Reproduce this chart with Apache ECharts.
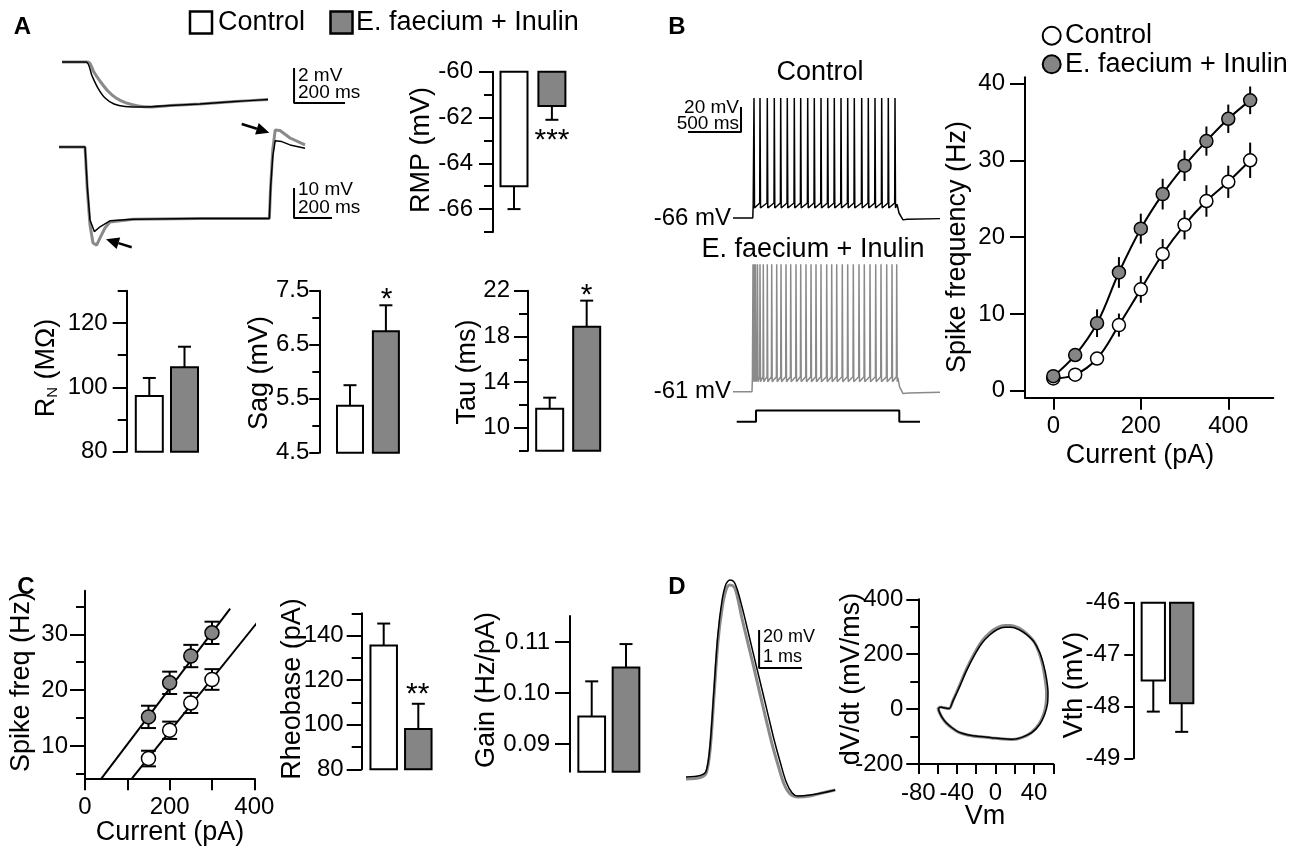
<!DOCTYPE html>
<html><head><meta charset="utf-8">
<script src="https://cdn.jsdelivr.net/npm/echarts/dist/echarts.min.js"></script>
<style>html,body{margin:0;padding:0;background:#fff}#c{width:1300px;height:858px}</style>
</head><body><div id="c"></div>
<script>
// ---------------- DATA ----------------
const groups = ['Control', 'E. faecium + Inulin'];
// Panel A traces (time ms, voltage mV relative to baseline)
const aTopCtrl = [[0,0],[94,0],[118,-0.80],[141,-1.49],[169,-2.06],[204,-2.40],[247,-2.54],[325,-2.57],[424,-2.49],[541,-2.40],[678,-2.26],[808,-2.14]];
const aTopEF = [[0,0],[102,0],[125,-0.57],[149,-1.09],[180,-1.66],[212,-2.06],[251,-2.34],[298,-2.51],[345,-2.57],[424,-2.49],[541,-2.40],[678,-2.26],[808,-2.14]];
const aTopScale = [[910,-0.34],[910,-2.34],[1110,-2.34]];
const aBotCtrl = [[0,0],[137,0],[149,-13.2],[163,-24.3],[186,-28.2],[216,-26.6],[268,-24.6],[391,-24.1],[742,-23.8],[1107,-23.8],[1114,-13.2],[1125,-3.2],[1138,2.1],[1172,1.8],[1216,0.7],[1295,-0.4]];
const aBotEF = [[0,0],[137,0],[149,-14.3],[163,-26],[179,-32],[198,-32.7],[216,-30.3],[242,-27],[268,-25],[391,-24.1],[742,-23.8],[1107,-23.8],[1114,-13.2],[1125,-1],[1138,5.7],[1163,5.5],[1216,3],[1295,0.7]];
const aBotScale = [[1237,-13.7],[1237,-23.7],[1437,-23.7]];
// Bar panels (mean, SEM)
const rmpMean = [-65.0, -61.5], rmpErr = [1.0, 0.6];
const rnMean = [97.3, 106.2], rnErr = [5.6, 6.4];
const sagMean = [5.37, 6.75], sagErr = [0.38, 0.48];
const tauMean = [11.67, 18.84], tauErr = [0.97, 2.29];
const rheoMean = [135.6, 98.1], rheoErr = [9.8, 11.3];
const gainMean = [0.0954, 0.1050], gainErr = [0.0069, 0.0046];
const vthMean = [-47.50, -47.94], vthErr = [0.60, 0.55];
// Tick values
const rmpMajor = [-66,-64,-62,-60], rmpMinor = [-67,-65,-63,-61];
const rnMajor = [80,100,120], rnMinor = [90,110,130];
const sagMajor = [4.5,5.5,6.5,7.5], sagMinor = [5,6,7];
const tauMajor = [10,14,18,22], tauMinor = [8,12,16,20];
const rheoMajor = [80,100,120,140], rheoMinor = [90,110,130,150];
const gainMajor = [0.09,0.10,0.11];
const vthMajor = [-49,-48,-47,-46];
const bYMajor = [0,10,20,30,40], bXMajor = [0,200,400];
const cYMajor = [10,20,30], cYMinor = [5,15,25,35], cXTicks = [0,100,200,300,400], cXLabels = [0,200,400];
const dYMajor = [-200,0,200,400], dYMinor = [-100,100,300], dXTicks = [-80,-60,-40,-20,0,20,40,60], dXLabels = [-80,-40,0,40];
// Panel B spike trains (spike times ms)
const bCtrlSpikes = [210,270,343,413,477,543,613,677,747,813,880,947,1013,1080,1147,1213,1287,1353,1420,1487,1553,1620];
const bEFSpikes = [200,212,225,245,270,303,343,387,437,480,530,577,630,677,730,780,830,880,937,987,1037,1093,1147,1203,1260,1313,1370,1427,1480,1537,1590,1637];
const bCtrlTail = [[1660,-62],[1700,-67.5],[1740,-67],[2070,-66.5]];
const bEFTail = [[1665,-57],[1700,-62.5],[1760,-62],[2070,-61.5]];
const bStep = [[37,-85],[230,-85],[230,-76],[1663,-76],[1663,-85],[1870,-85]];
const bScale = [[-450,2.8],[80,2.8],[80,22.8]];
// Panel B F-I curve
const currentB = [0,50,100,150,200,250,300,350,400,450];
const ctrlFreq = [1.6,2.1,4.2,8.55,13.2,17.8,21.6,24.7,27.2,30.0];
const ctrlFreqErr = [0.3,0.5,0.8,1.5,1.75,1.95,1.9,2.05,2.1,2.3];
const efFreq = [1.9,4.65,8.8,15.4,21.1,25.6,29.3,32.5,35.4,37.8];
const efFreqErr = [0.3,0.8,1.8,2.0,1.95,2.0,2.0,1.9,1.85,1.8];
// Panel C linear range
const currentC = [150,200,250,300];
const ctrlC = [7.74,12.8,17.7,21.9], ctrlCErr = [1.4,1.55,1.8,1.85];
const efC = [15.2,21.3,26.1,30.25], efCErr = [2.0,2.0,2.0,2.0];
const fitCtrlC = [[111,4.2],[410,32.4]], fitEfC = [[39,4.2],[343,34.6]];
// Panel D action potential (ms, mV rel.) and phase plot (mV, mV/ms)
const apCtrl = [[0,0],[0.33,0.8],[0.47,3.2],[0.56,16.8],[0.65,45.8],[0.74,74.7],[0.84,93.2],[0.93,101.6],[1.02,103.7],[1.12,102.6],[1.21,97.4],[1.35,85.3],[1.49,72.1],[1.63,58.9],[1.77,45.8],[1.91,32.6],[2.05,19.5],[2.19,7.9],[2.33,-2.6],[2.47,-8.4],[2.60,-10.0],[2.88,-9.5],[3.16,-8.4],[3.47,-6.8]];
const apEF = [[0,-1.1],[0.33,-0.3],[0.47,2.1],[0.56,14.2],[0.65,42.1],[0.74,70.5],[0.84,88.9],[0.93,98.4],[1.02,101.1],[1.12,100.0],[1.19,95.3],[1.30,83.7],[1.44,70.5],[1.58,57.4],[1.72,43.7],[1.86,30.5],[2.00,17.4],[2.14,6.3],[2.28,-3.7],[2.42,-8.9],[2.60,-10.5],[2.88,-10.0],[3.16,-8.4],[3.47,-6.8]];
const apScale = [[1.70,77.4],[1.70,57.4],[2.70,57.4]];
const phaseCtrl = [[-57,8],[-52,4],[-48,2],[-44,30],[-38,75],[-30,140],[-22,195],[-14,240],[-6,270],[2,290],[10,298],[16,298],[24,290],[32,272],[40,245],[46,205],[50,160],[53,110],[54.5,60],[54,20],[51,-20],[46,-55],[38,-85],[28,-102],[18,-110],[8,-108],[-4,-104],[-16,-100],[-28,-94],[-38,-84],[-45,-68],[-51,-50],[-55,-32],[-58,-12],[-59,2],[-57,8]];
const phaseEF = [[-57,8],[-52,4],[-48,2],[-44,32],[-38,80],[-30,146],[-22,202],[-14,248],[-6,278],[2,297],[10,305],[16,305],[24,296],[32,276],[40,246],[45,208],[49,160],[51.5,110],[53,60],[52.5,20],[50,-20],[45,-56],[37,-86],[28,-103],[18,-111],[8,-109],[-4,-105],[-16,-101],[-28,-95],[-38,-85],[-45,-69],[-51,-51],[-55,-33],[-58,-13],[-59.5,2],[-57,8]];

// ---------------- BUILD ----------------
const FF = '"Liberation Sans", Arial, Helvetica, sans-serif';
const BLACK = '#000', GREY = '#858585', TGREY = '#8a8a8a';
const NAME = 27;
const grid = [], xAxis = [], yAxis = [], series = [], graphic = [];

function addGrid(r){ grid.push({left:r[0], top:r[1], width:r[2], height:r[3]}); return grid.length-1; }
function traceGrid(r, xv0, xp0, xk, yv0, yp0, yk){
  const g = addGrid(r);
  xAxis.push({gridIndex:g, type:'value', show:false, min: xv0 + (r[0]-xp0)/xk, max: xv0 + (r[0]+r[2]-xp0)/xk});
  yAxis.push({gridIndex:g, type:'value', show:false, min: yv0 - (r[1]+r[3]-yp0)/yk, max: yv0 + (yp0-r[1])/yk});
  return [xAxis.length-1, yAxis.length-1];
}
function line(ax, data, color, width, z, smooth){
  series.push({type:'line', xAxisIndex:ax[0], yAxisIndex:ax[1], data:data, showSymbol:false, symbol:'none',
    smooth: smooth||false, clip:false, silent:true, z: z||2, lineStyle:{color:color, width:width}});
}
function yAx(g, o){
  const lab = {show:true, customValues:o.majors, margin:o.margin, fontSize:24, color:BLACK, fontFamily:FF};
  if (o.fmt) lab.formatter = o.fmt;
  yAxis.push({gridIndex:g, type:'value', position:'left', min:o.min, max:o.max,
    axisLine:{show:true, onZero:false, lineStyle:{color:BLACK, width:2}},
    axisTick:{show:true, inside:false, length:o.majLen, customValues:o.majors, lineStyle:{color:BLACK, width:2}},
    axisLabel:lab, splitLine:{show:false}});
  const yi = yAxis.length-1;
  if (o.minors) yAxis.push({gridIndex:g, type:'value', position:'left', offset:0, min:o.min, max:o.max,
    axisLine:{show:false, onZero:false}, axisTick:{show:true, length:o.minLen, customValues:o.minors, lineStyle:{color:BLACK, width:2}},
    axisLabel:{show:false}, splitLine:{show:false}});
  return yi;
}
function xAx(g, o){
  xAxis.push({gridIndex:g, type:'value', position:'bottom', min:o.min, max:o.max,
    axisLine:{show:true, onZero:false, lineStyle:{color:BLACK, width:2}},
    axisTick:{show:true, length:o.tickLen, customValues:o.ticks, lineStyle:{color:BLACK, width:2}},
    axisLabel:{show:true, customValues:o.labels, margin:o.margin, fontSize:24, color:BLACK, fontFamily:FF},
    splitLine:{show:false}});
  return xAxis.length-1;
}
function barPanel(p){
  const g = addGrid([p.axisX, p.top, p.width, p.bottom - p.top]);
  xAxis.push({gridIndex:g, type:'value', show:false, min:p.xmin, max:p.xmin + p.width/p.unitPx});
  const xi = xAxis.length-1;
  const yi = yAx(g, p);
  const hw = p.barPx/2/p.unitPx;
  series.push({type:'custom', xAxisIndex:xi, yAxisIndex:yi, clip:false, silent:true, z:3,
    data: p.mean.map((v,i)=>[i+1, v, p.err[i]]),
    renderItem: function(params, api){
      const x=api.value(0), v=api.value(1), e=api.value(2), i=params.dataIndex;
      const dir = v >= p.base ? 1 : -1;
      const a = api.coord([x-hw, p.base]), b = api.coord([x+hw, v]);
      const t = api.coord([x, v]), te = api.coord([x, v+dir*e]);
      return {type:'group', children:[
        {type:'line', shape:{x1:t[0],y1:t[1],x2:te[0],y2:te[1]}, style:{stroke:BLACK,lineWidth:2}},
        {type:'line', shape:{x1:te[0]-6.5,y1:te[1],x2:te[0]+6.5,y2:te[1]}, style:{stroke:BLACK,lineWidth:2}},
        {type:'rect', shape:{x:Math.min(a[0],b[0]), y:Math.min(a[1],b[1]), width:Math.abs(b[0]-a[0]), height:Math.abs(b[1]-a[1])},
          style:{fill: i===0 ? '#fff' : GREY, stroke:BLACK, lineWidth:2}}
      ]};
    }});
}
function errBars(xi, yi, xs, ys, es, cap, z){
  series.push({type:'custom', xAxisIndex:xi, yAxisIndex:yi, clip:false, silent:true, z:z,
    data: xs.map((x,i)=>[x, ys[i], es[i]]),
    renderItem: function(params, api){
      const x=api.value(0), y=api.value(1), e=api.value(2);
      const a=api.coord([x,y-e]), b=api.coord([x,y+e]);
      const st = {stroke:BLACK, lineWidth:2};
      const ch=[{type:'line', shape:{x1:a[0],y1:a[1],x2:b[0],y2:b[1]}, style:st}];
      if (cap) {
        ch.push({type:'line', shape:{x1:a[0]-cap,y1:a[1],x2:a[0]+cap,y2:a[1]}, style:st});
        ch.push({type:'line', shape:{x1:b[0]-cap,y1:b[1],x2:b[0]+cap,y2:b[1]}, style:st});
      }
      return {type:'group', children:ch};
    }});
}
function dots(xi, yi, xs, ys, fill, size, z){
  series.push({type:'scatter', xAxisIndex:xi, yAxisIndex:yi, data: xs.map((x,i)=>[x, ys[i]]), symbol:'circle',
    symbolSize:size, clip:false, silent:true, z:z, itemStyle:{color:fill, borderColor:BLACK, borderWidth:1.5, opacity:1}});
}
function train(v0, tOn, tOff, plateau, peak, ahp, spikes, tail){
  const d = [[0, v0], [tOn, v0], [tOn+4, plateau]];
  spikes.forEach(t => { d.push([t-3, plateau+1], [t, peak], [t+5, ahp]); });
  d.push([tOff, plateau]);
  tail.forEach(p => d.push(p));
  return d;
}
function txt(x, y, s, o){
  o = o || {};
  const style = {text:s, fontSize:o.size||NAME, fontFamily:FF, fontWeight:o.bold?'bold':'normal', fill:'#000',
    align:o.align||'center', verticalAlign:o.va||'middle'};
  if (o.rich) style.rich = o.rich;
  graphic.push({type:'text', x:x, y:y, rotation:o.rot||0, z:100, silent:true, style:style});
}
function arrow(x1,y1,x2,y2){
  const ang = Math.atan2(y2-y1, x2-x1), L=13, W=6;
  const bx = x2 - L*Math.cos(ang), by = y2 - L*Math.sin(ang);
  graphic.push({type:'line', silent:true, shape:{x1:x1,y1:y1,x2:bx,y2:by}, style:{stroke:'#000', lineWidth:2.5}});
  graphic.push({type:'polygon', silent:true, shape:{points:[[x2,y2],[bx+W*Math.sin(ang), by-W*Math.cos(ang)],[bx-W*Math.sin(ang), by+W*Math.cos(ang)]]}, style:{fill:'#000'}});
}

// ---- Panel A traces
let ax = traceGrid([55,50,300,65], 0, 62, 0.255, 0, 62, 17.5);
line(ax, aTopEF, TGREY, 3, 2, 0.3);
line(ax, aTopCtrl, BLACK, 1.5, 3, 0.3);
line(ax, aTopScale, BLACK, 2, 3);
ax = traceGrid([50,120,300,135], 0, 59, 0.19, 0, 147, 3);
line(ax, aBotEF, TGREY, 3, 2);
line(ax, aBotCtrl, BLACK, 1.5, 3);
line(ax, aBotScale, BLACK, 2, 3);

// ---- Bar panels
barPanel({axisX:493, top:71.7, bottom:232, width:80, xmin:0.446, unitPx:37.9, barPx:27, min:-67, max:-60,
  majors:rmpMajor, minors:rmpMinor, majLen:14, minLen:9, margin:20, base:-60, mean:rmpMean, err:rmpErr});
barPanel({axisX:126.7, top:290.7, bottom:451.7, width:75, xmin:0.358, unitPx:35.2, barPx:27, min:80, max:130,
  majors:rnMajor, minors:rnMinor, majLen:14, minLen:9, margin:19, base:80, mean:rnMean, err:rnErr});
barPanel({axisX:319.3, top:290.7, bottom:452.7, width:90, xmin:0.145, unitPx:35.9, barPx:26, min:4.5, max:7.5,
  majors:sagMajor, minors:sagMinor, majLen:10, minLen:7, margin:10, base:4.5, mean:sagMean, err:sagErr});
barPanel({axisX:528, top:290.7, bottom:450.7, width:80, xmin:0.414, unitPx:37, barPx:27, min:8, max:22,
  majors:tauMajor, minors:tauMinor, majLen:14, minLen:9, margin:18, base:8, mean:tauMean, err:tauErr});
barPanel({axisX:361.7, top:613.3, bottom:769.3, width:80, xmin:0.364, unitPx:34.6, barPx:26.5, min:80, max:150,
  majors:rheoMajor, minors:rheoMinor, majLen:15, minLen:10, margin:18, base:80, mean:rheoMean, err:rheoErr});
barPanel({axisX:570, top:616, bottom:771.7, width:80, xmin:0.367, unitPx:34.3, barPx:26.7, min:0.0846, max:0.1151,
  majors:gainMajor, majLen:15, margin:20, base:0.0846, mean:gainMean, err:gainErr, fmt:function(v){return v.toFixed(2);}});
barPanel({axisX:1133.3, top:602.7, bottom:758.3, width:70, xmin:0.296, unitPx:28.4, barPx:23.3, min:-49, max:-46,
  majors:vthMajor, majLen:9, margin:13, base:-46, mean:vthMean, err:vthErr});

// ---- Panel B traces
ax = traceGrid([685,92,260,135], 0, 733, 0.1, -66, 218, 1.25);
line(ax, train(-66, 198, 1640, -55, 30, -58, bCtrlSpikes, bCtrlTail), BLACK, 1.5, 3);
line(ax, bScale, BLACK, 2, 3);
ax = traceGrid([685,255,260,175], 0, 733, 0.1, -61, 391.7, 1.25);
line(ax, train(-61, 190, 1650, -50, 41, -53, bEFSpikes, bEFTail), TGREY, 1.5, 3);
line(ax, bStep, BLACK, 2, 3);

// ---- Panel B F-I plot
let g = addGrid([1025, 77.3, 248.3, 320.4]);
let xi = xAx(g, {min:-64.7, max:502.9, ticks:bXMajor, labels:bXMajor, tickLen:12, margin:17});
let yi = yAx(g, {min:-0.9, max:40.8, majors:bYMajor, majLen:15, margin:20});
line([xi,yi], currentB.map((x,i)=>[x, ctrlFreq[i]]), BLACK, 2, 2, 0.4);
line([xi,yi], currentB.map((x,i)=>[x, efFreq[i]]), BLACK, 2, 2, 0.4);
errBars(xi, yi, currentB, ctrlFreq, ctrlFreqErr, 0, 3);
errBars(xi, yi, currentB, efFreq, efFreqErr, 0, 3);
dots(xi, yi, currentB, ctrlFreq, '#fff', 13, 4);
dots(xi, yi, currentB, efFreq, GREY, 13, 4);

// ---- Panel C linear fit
g = addGrid([85, 590.7, 169.3, 187.6]);
xi = xAx(g, {min:0, max:400, ticks:cXTicks, labels:cXLabels, tickLen:12, margin:17});
yi = yAx(g, {min:4.2, max:37.8, majors:cYMajor, minors:cYMinor, majLen:15, minLen:9, margin:17});
line([xi,yi], fitEfC, BLACK, 2, 2);
line([xi,yi], fitCtrlC, BLACK, 2, 2);
errBars(xi, yi, currentC, ctrlC, ctrlCErr, 7.5, 3);
errBars(xi, yi, currentC, efC, efCErr, 7.5, 3);
dots(xi, yi, currentC, ctrlC, '#fff', 14, 4);
dots(xi, yi, currentC, efC, GREY, 14, 4);

// ---- Panel D AP
ax = traceGrid([680,570,170,240], 0, 686, 43, 0, 777, 1.9);
line(ax, apEF, TGREY, 3, 2, 0.3);
line(ax, apCtrl, BLACK, 1.5, 3, 0.3);
line(ax, apScale, BLACK, 2, 3);

// ---- Panel D phase plot
g = addGrid([918.3, 599.3, 135, 164.7]);
xi = xAx(g, {min:-80, max:60, ticks:dXTicks, labels:dXLabels, tickLen:10, margin:17});
yi = yAx(g, {min:-200, max:400, majors:dYMajor, minors:dYMinor, majLen:12, minLen:8, margin:15});
line([xi,yi], phaseEF, TGREY, 3, 2, 0.3);
line([xi,yi], phaseCtrl, BLACK, 1.5, 3, 0.3);

// ---------------- TEXT / ANNOTATIONS ----------------
const R90 = Math.PI/2;
txt(22.5, 27, 'A', {size:24, bold:true});
txt(677, 27, 'B', {size:24, bold:true});
txt(26, 587, 'C', {size:24, bold:true});
txt(677, 587, 'D', {size:24, bold:true});
// top legend
graphic.push({type:'rect', silent:true, shape:{x:190, y:11.5, width:22, height:22}, style:{fill:'#fff', stroke:'#000', lineWidth:2.5}});
txt(218, 23, groups[0], {align:'left'});
graphic.push({type:'rect', silent:true, shape:{x:330.5, y:11.5, width:22, height:22}, style:{fill:GREY, stroke:'#000', lineWidth:2.5}});
txt(356, 23, groups[1], {align:'left'});
// A scale labels
txt(298, 76, '2 mV', {size:19, align:'left'});
txt(298, 93, '200 ms', {size:19, align:'left'});
txt(298, 190, '10 mV', {size:19, align:'left'});
txt(298, 208, '200 ms', {size:19, align:'left'});
arrow(241.7, 124, 269.3, 132.7);
arrow(131.7, 247.3, 106, 239.3);
// A axis names
txt(422, 150, 'RMP (mV)', {rot:R90});
txt(47, 368, '{r|R}{s|N}{r| (MΩ)}', {rot:R90, rich:{r:{fontSize:NAME, fontFamily:FF, fill:'#000'}, s:{fontSize:15, fontFamily:FF, fill:'#000', verticalAlign:'bottom'}}});
txt(260, 373, 'Sag (mV)', {rot:R90});
txt(468, 372, 'Tau (ms)', {rot:R90});
// stars
txt(552, 141, '***', {size:30});
txt(386.7, 300, '*', {size:30});
txt(586.7, 296, '*', {size:30});
txt(417.7, 695, '**', {size:30});
// B
txt(820, 73, groups[0]);
txt(813, 250, groups[1]);
txt(731, 218, '-66 mV', {size:24, align:'right'});
txt(731, 391, '-61 mV', {size:24, align:'right'});
txt(739, 108, '20 mV', {size:19, align:'right'});
txt(739, 124, '500 ms', {size:19, align:'right'});
graphic.push({type:'circle', silent:true, shape:{cx:1051.7, cy:35.7, r:9}, style:{fill:'#fff', stroke:'#000', lineWidth:2}});
txt(1065, 35.7, groups[0], {align:'left'});
graphic.push({type:'circle', silent:true, shape:{cx:1051.7, cy:64.3, r:9}, style:{fill:GREY, stroke:'#000', lineWidth:2}});
txt(1065, 64.3, groups[1], {align:'left'});
txt(958, 247, 'Spike frequency (Hz)', {rot:R90});
txt(1140, 456, 'Current (pA)');
// C
txt(22, 682, 'Spike freq (Hz)', {rot:R90});
txt(170, 833, 'Current (pA)');
txt(292.7, 689, 'Rheobase (pA)', {rot:R90});
txt(486.7, 690, 'Gain (Hz/pA)', {rot:R90});
// D
txt(763, 637, '20 mV', {size:18, align:'left'});
txt(763, 657, '1 ms', {size:18, align:'left'});
txt(851.7, 679, 'dV/dt (mV/ms)', {rot:R90});
txt(985, 817, 'Vm');
txt(1075, 685, 'Vth (mV)', {rot:R90});

const chart = echarts.init(document.getElementById('c'), null, {renderer:'canvas'});
chart.setOption({
  animation:false, backgroundColor:'#fff', textStyle:{fontFamily:FF},
  grid:grid, xAxis:xAxis, yAxis:yAxis, series:series, graphic:graphic
});
</script></body></html>
